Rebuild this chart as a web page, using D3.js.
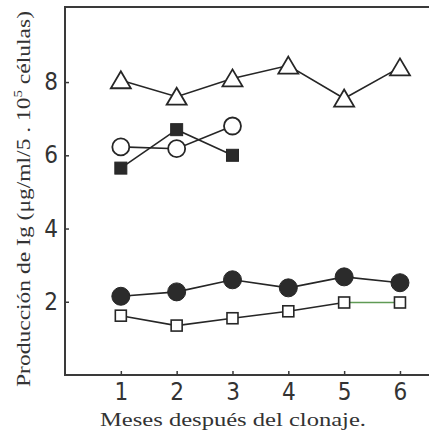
<!DOCTYPE html>
<html>
<head>
<meta charset="utf-8">
<script src="https://cdn.jsdelivr.net/npm/d3@7"></script>
<style>
  body { margin: 0; background: #fff; }
  svg { display: block; }
</style>
</head>
<body>
<div id="chart"></div>
<script>
var width = 429, height = 433;

// months after cloning
var months = [1, 2, 3, 4, 5, 6];
var yTicks = [2, 4, 6, 8];
// Ig production per series
var triangles = [8.05, 7.6, 8.1, 8.45, 7.55, 8.4];
var openCircles = [6.23, 6.18, 6.8];
var filledSquares = [5.65, 6.7, 6.0];
var filledCircles = [2.15, 2.27, 2.6, 2.38, 2.68, 2.52];
var openSquares = [1.62, 1.35, 1.55, 1.74, 1.98, 1.98];

var x = d3.scaleLinear().domain([0, 6.52]).range([65, 429]);
var y = d3.scaleLinear().domain([0, 10.05]).range([375, 7]);

var svg = d3.select("#chart").append("svg")
    .attr("width", width)
    .attr("height", height);

var ink = "#262626";

// frame: left axis, bottom axis, top line
svg.append("path")
    .attr("d", "M429," + y(10.05) + "H" + x(0) + "V" + y(0) + "H429")
    .attr("fill", "none")
    .attr("stroke", "#3a3a3a")
    .attr("stroke-width", 2);

// inward ticks
var xAxis = svg.append("g")
    .attr("transform", "translate(0," + y(0) + ")")
    .call(d3.axisBottom(x).tickValues(months).tickFormat(d3.format("d"))
      .tickSizeInner(-4).tickSizeOuter(0).tickPadding(10));
var yAxis = svg.append("g")
    .attr("transform", "translate(" + x(0) + ",0)")
    .call(d3.axisLeft(y).tickValues(yTicks).tickFormat(d3.format("d"))
      .tickSizeInner(-4).tickSizeOuter(0).tickPadding(7));

[xAxis, yAxis].forEach(function(g) {
  g.select(".domain").remove();
  g.selectAll("line").attr("stroke", "#3a3a3a").attr("stroke-width", 1.5);
  g.selectAll("text")
    .attr("fill", "#333")
    .style("font-family", "'DejaVu Sans Condensed', 'Liberation Sans Narrow', sans-serif")
    .style("font-weight", "300")
    .style("font-size", "24px");
});
xAxis.selectAll("text").attr("dy", "0.62em");

var line = d3.line()
    .x(function(d, i) { return x(months[i]); })
    .y(function(d) { return y(d); });

function drawLine(vals) {
  svg.append("path")
    .datum(vals)
    .attr("d", line)
    .attr("fill", "none")
    .attr("stroke", ink)
    .attr("stroke-width", 1.6);
}

drawLine(triangles);
drawLine(openCircles);
drawLine(filledSquares);
drawLine(filledCircles);
drawLine(openSquares.slice(0, 5));

// last open-square segment is greenish in the scan
svg.append("line")
    .attr("x1", x(months[4])).attr("y1", y(openSquares[4]))
    .attr("x2", x(months[5])).attr("y2", y(openSquares[5]))
    .attr("stroke", "#5f9a55")
    .attr("stroke-width", 1.4);

function pts(vals) {
  return vals.map(function(v, i) { return {x: x(months[i]), y: y(v)}; });
}

svg.selectAll(".tri")
  .data(pts(triangles))
  .enter().append("path")
    .attr("class", "tri")
    .attr("d", function(d) {
      return "M" + d.x + "," + (d.y - 9) + "L" + (d.x + 10) + "," + (d.y + 8) + "L" + (d.x - 10) + "," + (d.y + 8) + "Z";
    })
    .attr("fill", "#fff")
    .attr("stroke", ink)
    .attr("stroke-width", 1.8);

svg.selectAll(".ocirc")
  .data(pts(openCircles))
  .enter().append("circle")
    .attr("cx", function(d) { return d.x; })
    .attr("cy", function(d) { return d.y; })
    .attr("r", 8.5)
    .attr("fill", "#fff")
    .attr("stroke", ink)
    .attr("stroke-width", 1.8);

svg.selectAll(".fsq")
  .data(pts(filledSquares))
  .enter().append("rect")
    .attr("x", function(d) { return d.x - 6; })
    .attr("y", function(d) { return d.y - 6; })
    .attr("width", 12)
    .attr("height", 12)
    .attr("fill", "#2a2a2a")
    .attr("stroke", ink)
    .attr("stroke-width", 1);

svg.selectAll(".fcirc")
  .data(pts(filledCircles))
  .enter().append("circle")
    .attr("cx", function(d) { return d.x; })
    .attr("cy", function(d) { return d.y; })
    .attr("r", 9)
    .attr("fill", "#2b2b2b")
    .attr("stroke", ink)
    .attr("stroke-width", 1);

svg.selectAll(".osq")
  .data(pts(openSquares))
  .enter().append("rect")
    .attr("x", function(d) { return d.x - 5.5; })
    .attr("y", function(d) { return d.y - 5.5; })
    .attr("width", 11)
    .attr("height", 11)
    .attr("fill", "#fff")
    .attr("stroke", ink)
    .attr("stroke-width", 1.6);

// axis titles
svg.append("text")
    .attr("x", 233)
    .attr("y", 426)
    .attr("text-anchor", "middle")
    .attr("textLength", 266)
    .attr("lengthAdjust", "spacingAndGlyphs")
    .attr("fill", "#333")
    .style("font-family", "'Liberation Serif', 'DejaVu Serif', serif")
    .style("font-size", "19px")
    .text("Meses después del clonaje.");

var yt = svg.append("text")
    .attr("transform", "translate(30,199) rotate(-90)")
    .attr("text-anchor", "middle")
    .attr("textLength", 376)
    .attr("lengthAdjust", "spacingAndGlyphs")
    .attr("fill", "#333")
    .style("font-family", "'Liberation Serif', 'DejaVu Serif', serif")
    .style("font-size", "19px");
yt.append("tspan").text("Producción de Ig (μg/ml/5 . 10");
yt.append("tspan").attr("dy", -8).style("font-size", "12px").text("5");
yt.append("tspan").attr("dy", 8).text(" células)");
</script>
</body>
</html>
